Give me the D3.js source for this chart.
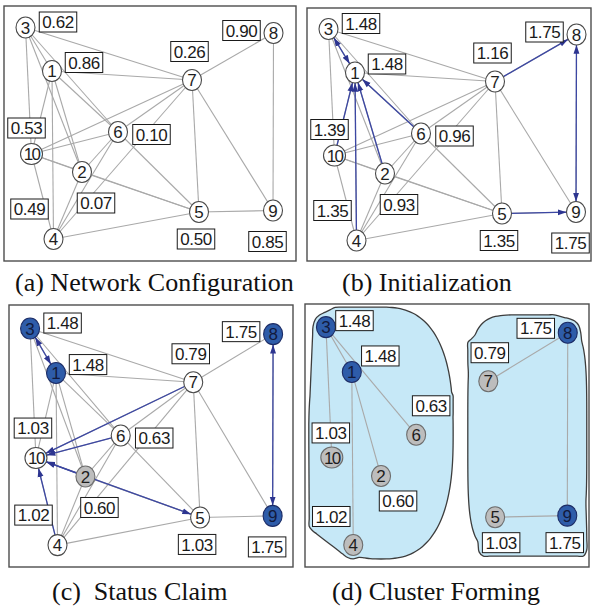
<!DOCTYPE html>
<html>
<head>
<meta charset="utf-8">
<script src="https://cdn.jsdelivr.net/npm/d3@7"></script>
<style>
  html, body { margin: 0; padding: 0; background: #fff; }
  svg { display: block; }
</style>
</head>
<body>
<svg id="fig" width="592" height="607"></svg>
<script>
// ---- graph data ----
const nodeIds = [1, 2, 3, 4, 5, 6, 7, 8, 9, 10];
// node placement in layout units (shared by all four panels)
const nodeX = [48, 78, 21.5, 49.5, 195, 114, 188, 269.5, 269, 27.5];
const nodeY = [65, 166, 21.5, 233, 206, 126, 74, 27, 204.5, 148];

const links = [
  [3, 7], [3, 1], [3, 10], [3, 2], [3, 6],
  [1, 7], [1, 10], [1, 2], [1, 4], [1, 6],
  [7, 10], [7, 6], [7, 4], [7, 5], [7, 9], [7, 8],
  [8, 9], [5, 9], [5, 4], [5, 10], [2, 5],
  [10, 2], [10, 6], [10, 4], [2, 4], [2, 6], [6, 4], [6, 5]
];

// per-node values, in nodeIds order
const weightsA = [0.86, 0.07, 0.62, 0.49, 0.50, 0.10, 0.26, 0.90, 0.85, 0.53];
const weightsB = [1.48, 0.93, 1.48, 1.35, 1.35, 0.96, 1.16, 1.75, 1.75, 1.39];
const weightsC = [1.48, 0.60, 1.48, 1.02, 1.03, 0.63, 0.79, 1.75, 1.75, 1.03];
const weightsD = [1.48, 0.60, 1.48, 1.02, 1.03, 0.63, 0.79, 1.75, 1.75, 1.03];

// messages: [source, target, direction]
const messagesB = [[3, 1, "both"], [10, 1, "one"], [4, 1, "one"], [2, 1, "one"],
                   [6, 1, "one"], [7, 8, "one"], [8, 9, "both"], [5, 9, "one"]];
const messagesC = [[3, 1, "both"], [7, 10, "one"], [6, 10, "one"], [2, 10, "one"],
                   [5, 10, "both"], [4, 10, "one"], [8, 9, "both"]];

const clusterHeads = [1, 3, 8, 9];
const claimedC = [2];
const clusters = [[3, 1, 6, 10, 2, 4], [7, 8, 5, 9]];
const clusterLinks = [[3, 1], [3, 10], [3, 6], [1, 2], [1, 4], [7, 8], [8, 9], [9, 5]];

const captions = ["(a) Network Configuration", "(b) Initialization",
                  "(c)\u00a0\u00a0Status Claim", "(d) Cluster Forming"];

// ---- layout & style ----
const EDGE = "#a9a9a9", BLUE = "#3c47a3", HEAD_FILL = "#2e5ca9", HEAD_STROKE = "#1c2c66";
const GREY_FILL = "#bdbdbd", GREY_STROKE = "#6d6d6d";

const labelOffset = {1: [32, -8.5], 2: [14, 31], 3: [32.5, -5.5], 4: [-24, -30], 5: [-3, 27],
                     6: [33.5, 2.5], 7: [-2.5, -28.5], 8: [-32, -2.5], 9: [-5.5, 31], 10: [-5, -26]};
const labelOffsetC = {10: [-3, -30]};
const labelOffsetD = {1: [28.5, -16], 2: [17, 25], 3: [28.5, -6.5], 4: [-22, -28.5], 5: [6, 25.5],
                      6: [15, -29], 7: [1.5, -28.5], 8: [-32, -4.5], 9: [-2.5, 27], 10: [-1, -24.5]};
// roundness of each cluster outline (superellipse exponent)
const outlineRoundness = [2.6, 4.5];

const panels = [
  {frame: [4, 6, 292, 255], ox: 4, oy: 6, kx: 1, ky: 1, weights: weightsA, messages: [],
   links: links, offsets: {}, state: () => "plain", cap: [15, 291]},
  {frame: [307, 8, 284, 253], ox: 307, oy: 7.5, kx: 1, ky: 1, weights: weightsB, messages: messagesB,
   links: links, offsets: {}, state: () => "plain", cap: [342, 291]},
  {frame: [9, 305, 284, 262], ox: 9, oy: 306.5, kx: 0.98, ky: 1.024, weights: weightsC, messages: messagesC,
   links: links, offsets: labelOffsetC,
   state: id => clusterHeads.includes(id) ? "head" : (claimedC.includes(id) ? "grey" : "plain"), cap: [52, 600]},
  {frame: [305, 304, 284, 263], ox: 305, oy: 305, kx: 0.975, ky: 1.03, weights: weightsD, messages: [],
   links: clusterLinks, offsets: labelOffsetD, clusters: clusters,
   state: id => clusterHeads.includes(id) ? "head" : "grey", cap: [332, 600]}
];

const svg = d3.select("#fig");
const defs = svg.append("defs");
defs.append("marker")
  .attr("id", "tip")
  .attr("viewBox", "0 -4 10 8")
  .attr("refX", 10).attr("refY", 0)
  .attr("markerWidth", 9).attr("markerHeight", 7)
  .attr("markerUnits", "userSpaceOnUse")
  .attr("orient", "auto-start-reverse")
  .append("path").attr("d", "M0,-3.4L10,0L0,3.4Z").attr("fill", "#2d3590");

const fmt = d3.format(".2f");
const rxOf = id => id === 10 ? 11 : 9.5;
const RY = 10.5;

function ellipseReach(id, ux, uy) {
  const rx = rxOf(id);
  return 1 / Math.sqrt((ux / rx) ** 2 + (uy / RY) ** 2);
}

// distance from (cx,cy) along (ux,uy) to the boundary of a convex polygon
function rayToPolygon(poly, cx, cy, ux, uy) {
  let best = 0;
  for (let i = 0; i < poly.length; i++) {
    const [p1x, p1y] = poly[i], [p2x, p2y] = poly[(i + 1) % poly.length];
    const ex = p2x - p1x, ey = p2y - p1y;
    const det = -ux * ey + ex * uy;
    if (Math.abs(det) < 1e-9) continue;
    const t = (-(p1x - cx) * ey + ex * (p1y - cy)) / det;
    const s = (ux * (p1y - cy) - uy * (p1x - cx)) / det;
    if (t > 0 && s >= -1e-6 && s <= 1 + 1e-6) best = Math.max(best, t);
  }
  return best;
}

panels.forEach((p, pi) => {
  const x = d3.scaleLinear().domain([0, 290]).range([p.ox, p.ox + 290 * p.kx]);
  const y = d3.scaleLinear().domain([0, 290]).range([p.oy, p.oy + 290 * p.ky]);
  const pos = {};
  nodeIds.forEach((id, i) => { pos[id] = [x(nodeX[i]), y(nodeY[i])]; });

  const g = svg.append("g").attr("class", "panel");

  g.append("rect")
    .attr("x", p.frame[0]).attr("y", p.frame[1])
    .attr("width", p.frame[2]).attr("height", p.frame[3])
    .attr("fill", "#fff").attr("stroke", "#4d4d4d").attr("stroke-width", 1.4);

  // value label geometry (needed for cluster outlines too)
  const labelData = nodeIds.map((id, i) => {
    const off = p.offsets[id] || labelOffset[id];
    return {id, text: fmt(p.weights[i]), cx: pos[id][0] + off[0], cy: pos[id][1] + off[1]};
  });

  // cluster outlines: convex hull of members, swelled toward a rounded box
  if (p.clusters) {
    const pad = 3.5;
    p.clusters.forEach((members, ci) => {
      const pts = [];
      members.forEach(id => {
        const [cx, cy] = pos[id];
        for (let a = 0; a < 24; a++) {
          const t = a / 24 * 2 * Math.PI;
          pts.push([cx + (rxOf(id) + pad) * Math.cos(t), cy + (RY + pad) * Math.sin(t)]);
        }
        const l = labelData.find(d => d.id === id);
        const hw = 18.5, hh = 10;
        [[-1, -1], [1, -1], [1, 1], [-1, 1]].forEach(([sx, sy]) => {
          for (let a = 0; a < 8; a++) {
            const t = a / 8 * 2 * Math.PI;
            pts.push([l.cx + sx * hw + pad * Math.cos(t), l.cy + sy * hh + pad * Math.sin(t)]);
          }
        });
      });
      const hull = d3.polygonHull(pts);
      const [x0, x1] = d3.extent(hull, d => d[0]);
      const [y0, y1] = d3.extent(hull, d => d[1]);
      const cx = (x0 + x1) / 2, cy = (y0 + y1) / 2, ra = (x1 - x0) / 2, rb = (y1 - y0) / 2;
      const n = outlineRoundness[ci];
      const outline = d3.range(0, 144).map(k => {
        const t = k / 144 * 2 * Math.PI;
        const ux = Math.cos(t), uy = Math.sin(t);
        // superellipse radius in this direction
        const rs = 1 / Math.pow(Math.pow(Math.abs(ux / ra), n) + Math.pow(Math.abs(uy / rb), n), 1 / n);
        const rh = rayToPolygon(hull, cx, cy, ux, uy);
        const r = Math.max(rs, rh);
        return [cx + r * ux, cy + r * uy];
      });
      g.append("path")
        .attr("d", d3.line().curve(d3.curveCatmullRomClosed.alpha(0.5))(outline))
        .attr("fill", "#c6e8f7").attr("stroke", "#3d3d3d").attr("stroke-width", 1.3);
    });
  }

  // network links
  g.append("g").selectAll("line").data(p.links).join("line")
    .attr("x1", d => pos[d[0]][0]).attr("y1", d => pos[d[0]][1])
    .attr("x2", d => pos[d[1]][0]).attr("y2", d => pos[d[1]][1])
    .attr("stroke", EDGE).attr("stroke-width", 1.1);

  // messages
  g.append("g").selectAll("line").data(p.messages).join("line")
    .each(function (d) {
      const [sx, sy] = pos[d[0]], [tx, ty] = pos[d[1]];
      const dx = tx - sx, dy = ty - sy, len = Math.hypot(dx, dy);
      const ux = dx / len, uy = dy / len;
      const rs = ellipseReach(d[0], ux, uy), rt = ellipseReach(d[1], ux, uy);
      d3.select(this)
        .attr("x1", sx + ux * rs).attr("y1", sy + uy * rs)
        .attr("x2", tx - ux * rt).attr("y2", ty - uy * rt);
    })
    .attr("stroke", BLUE).attr("stroke-width", 1.3)
    .attr("marker-end", "url(#tip)")
    .attr("marker-start", d => d[2] === "both" ? "url(#tip)" : null);

  // nodes
  const node = g.append("g").selectAll("g").data(nodeIds).join("g")
    .attr("transform", id => `translate(${pos[id][0]},${pos[id][1]})`);
  node.append("ellipse")
    .attr("rx", id => rxOf(id)).attr("ry", RY)
    .attr("fill", id => ({plain: "#fff", head: HEAD_FILL, grey: GREY_FILL})[p.state(id)])
    .attr("stroke", id => ({plain: "#4a4a4a", head: HEAD_STROKE, grey: GREY_STROKE})[p.state(id)])
    .attr("stroke-width", 1.1);
  node.append("text")
    .attr("text-anchor", "middle").attr("dy", "0.36em")
    .attr("font-family", "'Liberation Sans', Arial, sans-serif")
    .attr("font-size", 17)
    .attr("letter-spacing", id => id === 10 ? -1.6 : 0)
    .attr("fill", id => p.state(id) === "head" ? "#121a3d" : "#1e1e1e")
    .text(id => id);

  // value labels
  const lab = g.append("g").selectAll("g").data(labelData).join("g")
    .attr("transform", d => `translate(${d.cx},${d.cy})`);
  const rects = lab.append("rect").attr("fill", "#fff").attr("stroke", "#1a1a1a").attr("stroke-width", 1);
  lab.append("text")
    .attr("text-anchor", "middle").attr("dy", "0.36em")
    .attr("font-family", "'Liberation Sans', Arial, sans-serif")
    .attr("font-size", 17).attr("letter-spacing", -0.4)
    .attr("fill", "#1a1a1a")
    .text(d => d.text)
    .each(function (d) { d.w = this.getComputedTextLength(); });
  rects.attr("x", d => -(d.w + 6) / 2).attr("y", -10)
    .attr("width", d => d.w + 6).attr("height", 20);

  // caption
  svg.append("text")
    .attr("x", p.cap[0]).attr("y", p.cap[1])
    .attr("font-family", "'Liberation Serif', 'Times New Roman', serif")
    .attr("font-size", 26).attr("fill", "#111")
    .text(captions[pi]);
});
</script>
</body>
</html>
